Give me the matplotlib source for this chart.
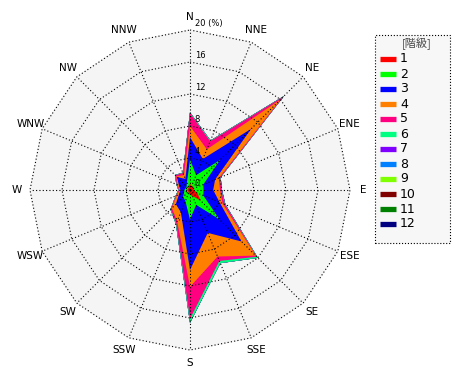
import numpy as np
import matplotlib
matplotlib.use('Agg')
import matplotlib.pyplot as plt
from matplotlib.patches import Rectangle

plt.rcParams['font.family'] = ['DejaVu Sans', 'Noto Sans CJK JP']

# 風向
dirs = ['N', 'NNE', 'NE', 'ENE', 'E', 'ESE', 'SE', 'SSE',
        'S', 'SSW', 'SW', 'WSW', 'W', 'WNW', 'NW', 'NNW']

# 各階級の出現率 (%)
c1 = [0.8, 0.5, 0.6, 0.4, 0.5, 1.0, 1.9, 0.8, 0.6, 0.4, 0.3, 0.3, 0.3, 0.3, 0.3, 0.4]
c2 = [3.0, 1.5, 4.7, 1.4, 1.2, 0.8, 3.3, 1.2, 3.1, 1.1, 0.9, 0.5, 0.4, 0.3, 0.3, 0.6]
c3 = [2.8, 2.2, 5.5, 1.6, 1.2, 2.2, 3.9, 3.8, 6.3, 1.5, 1.3, 0.7, 0.5, 0.9, 1.7, 0.5]
c4 = [1.4, 1.3, 5.2, 0.5, 0.85, 0.4, 2.5, 3.2, 2.1, 1.2, 0.7, 0.3, 0.1, 0.2, 0.1, 0.5]
c5 = [1.6, 1.1, 0.5, 0.2, 0.15, 0.3, 0.2, 0.6, 4.0, 0.3, 0.2, 0.1, 0.1, 0.1, 0.2, 0.3]
c6 = [0.1, 0.1, 0.1, 0.05, 0.05, 0.05, 0.2, 0.3, 0.5, 0.1, 0.05, 0.05, 0.05, 0.05, 0.05, 0.05]
c7 = [0, 0, 0, 0, 0.05, 0.05, 0, 0, 0, 0, 0, 0, 0, 0, 0, 0]
c8 = [0] * 16
c9 = [0] * 16
c10 = [0] * 16
c11 = [0] * 16
c12 = [0] * 16

classes = ['1', '2', '3', '4', '5', '6', '7', '8', '9', '10', '11', '12']
colors = ['#ff0000', '#00ff00', '#0000ff', '#ff8000', '#ff0080', '#00ff80',
          '#8000ff', '#0080ff', '#80ff00', '#800000', '#008000', '#000080']
rticks = [4, 8, 12, 16, 20]
rmax = 20

vals = np.array([c1, c2, c3, c4, c5, c6, c7, c8, c9, c10, c11, c12])
cum = np.cumsum(vals, axis=0)

# 方位角 (北から時計回り)
ang = np.deg2rad(np.arange(16) * 22.5)
sx = np.sin(ang)
sy = np.cos(ang)


def ring(r):
    '''半径rの16角形の座標'''
    r = np.asarray(r) * np.ones(16)
    return np.append(r * sx, r[0] * sx[0]), np.append(r * sy, r[0] * sy[0])


fig = plt.figure(figsize=(4.7, 3.8), dpi=100)
ax = fig.add_axes([10 / 470, 10 / 380, 360 / 470, 360 / 380])
ax.set_xlim(-22.5, 22.5)
ax.set_ylim(-22.5, 22.5)
ax.set_aspect('equal')
ax.axis('off')

# 背景
bx, by = ring(rmax)
ax.fill(bx, by, color='#f5f5f5', zorder=0)

# 積み上げ (外側から塗る)
for k in range(len(classes) - 1, -1, -1):
    px, py = ring(cum[k])
    ax.fill(px, py, color=colors[k], lw=0, zorder=1)

# グリッド
for r in rticks:
    gx, gy = ring(r)
    ax.plot(gx, gy, color='black', ls=(0, (1, 2)), lw=0.8, zorder=3)
for i in range(16):
    ax.plot([0, rmax * sx[i]], [0, rmax * sy[i]], color='black',
            ls=(0, (1, 2)), lw=0.8, zorder=3)

# 目盛ラベル
ax.text(0.6, 0.2, '0', fontsize=6, ha='left', va='bottom', zorder=4)
for r in rticks:
    lab = '20 (%)' if r == rmax else str(r)
    ax.text(0.6, r + 0.2, lab, fontsize=6, ha='left', va='bottom', zorder=4)

# 方位ラベル
for i, d in enumerate(dirs):
    ax.text(21.6 * sx[i], 21.6 * sy[i], d, fontsize=7.5, ha='center', va='center')

# 凡例 (ピクセル座標で配置)
W, H = 470, 380
fig.patches.append(Rectangle((375 / W, 1 - 243 / H), 75 / W, 208 / H,
                             transform=fig.transFigure, facecolor='#f7f7f7',
                             edgecolor='black', ls=':', lw=0.8))
fig.text(417 / W, 1 - 44 / H, '[階級]', fontsize=8, color='#444444',
         ha='center', va='center', family=['Noto Sans CJK JP', 'DejaVu Sans'])
for i, (lab, c) in enumerate(zip(classes, colors)):
    yy = 1 - (59 + 15 * i) / H
    fig.lines.append(plt.Line2D([380 / W, 396 / W], [yy, yy], color=c, lw=3.8,
                                solid_capstyle='butt', transform=fig.transFigure))
    fig.text(400 / W, yy, lab, fontsize=9, ha='left', va='center')

fig.savefig('out.png', dpi=100)
